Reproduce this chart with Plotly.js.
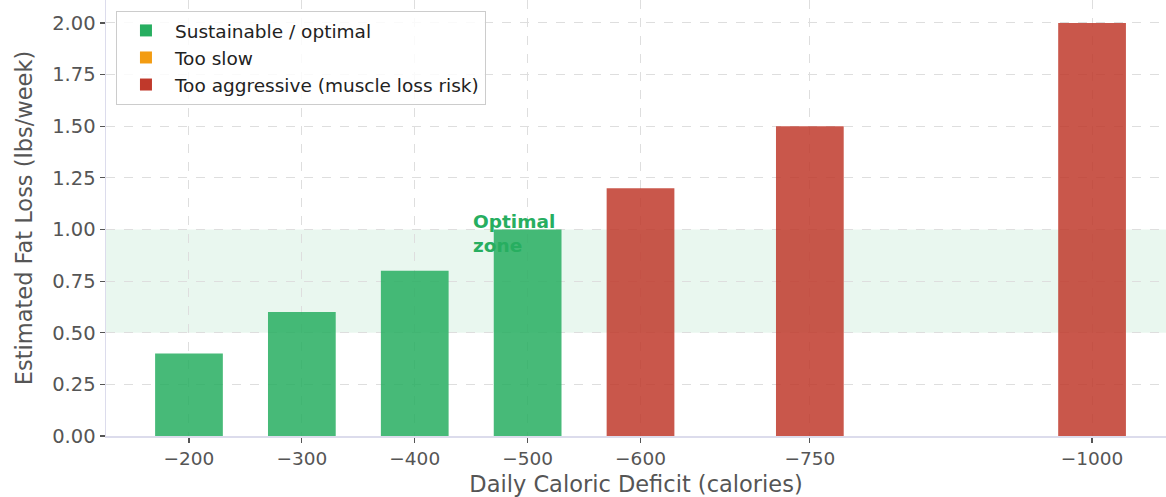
<!DOCTYPE html>
<html>
<head>
<meta charset="utf-8">
<script src="https://cdn.plot.ly/plotly-3.0.1.min.js"></script>
<style>html,body{margin:0;padding:0;background:#fff;}#chart{width:1166px;height:497px;}</style>
</head>
<body>
<div id="chart"></div>
<script>
const deficits = [-200, -300, -400, -500, -600, -750, -1000];
const fatLoss = [0.4, 0.6, 0.8, 1.0, 1.2, 1.5, 2.0];
const categories = ['optimal', 'optimal', 'optimal', 'optimal', 'aggressive', 'aggressive', 'aggressive'];
const tickLabels = ['\u2212200', '\u2212300', '\u2212400', '\u2212500', '\u2212600', '\u2212750', '\u22121000'];
const yTicks = [0, 0.25, 0.5, 0.75, 1.0, 1.25, 1.5, 1.75, 2.0];
const zoneLow = 0.5, zoneHigh = 1.0;

const groups = [
  {key: 'optimal', name: 'Sustainable / optimal', color: '#27ae60'},
  {key: 'slow', name: 'Too slow', color: '#f39c12'},
  {key: 'aggressive', name: 'Too aggressive (muscle loss risk)', color: '#c0392b'}
];

const traces = groups.map(g => {
  const xs = [], ys = [];
  deficits.forEach((d, i) => { if (categories[i] === g.key) { xs.push(d); ys.push(fatLoss[i]); } });
  if (xs.length === 0) { xs.push(-200); ys.push(null); }
  return {
    type: 'bar', x: xs, y: ys, name: g.name, width: 60,
    marker: {color: g.color, opacity: 0.85, line: {width: 0}},
    hoverinfo: 'x+y'
  };
});

const font = 'DejaVu Sans, sans-serif';
const layout = {
  width: 1166, height: 497,
  margin: {l: 106, r: 0, t: 0, b: 61},
  paper_bgcolor: '#fff', plot_bgcolor: '#fff',
  barmode: 'overlay',
  showlegend: true,
  font: {family: font, color: '#555'},
  xaxis: {
    range: [-126.5, -1065.5],
    tickvals: deficits, ticktext: tickLabels,
    ticks: 'outside', ticklen: 5, tickwidth: 1.2, tickcolor: '#555',
    tickfont: {size: 18.5, color: '#555'},
    showgrid: true, gridcolor: '#dedede', griddash: 'dash', gridwidth: 1,
    showline: true, linecolor: '#dcdcec', linewidth: 1.5,
    zeroline: false,
    title: {text: 'Daily Caloric Deficit (calories)', font: {size: 22.5, color: '#555'}, standoff: 9},
    automargin: false
  },
  yaxis: {
    range: [0, 2.111],
    tickvals: yTicks, tickformat: '.2f',
    ticks: 'outside', ticklen: 5, tickwidth: 1.2, tickcolor: '#555',
    tickfont: {size: 19.5, color: '#555'},
    showgrid: true, gridcolor: '#dedede', griddash: 'dash', gridwidth: 1,
    showline: true, linecolor: '#dcdcec', linewidth: 1.5,
    zeroline: false,
    title: {text: 'Estimated Fat Loss (lbs/week)', font: {size: 22.5, color: '#555'}, standoff: 13},
    automargin: false
  },
  shapes: [{
    type: 'rect', xref: 'paper', x0: 0, x1: 1, yref: 'y', y0: zoneLow, y1: zoneHigh,
    fillcolor: 'rgba(39,174,96,0.1)', line: {width: 0}, layer: 'below'
  }],
  annotations: [{
    x: -450, y: 0.98, xref: 'x', yref: 'y', xanchor: 'left', yanchor: 'middle',
    text: '<b>Optimal<br>zone</b>', showarrow: false, align: 'left',
    font: {family: font, size: 18.5, color: '#27ae60'}
  }],
  legend: {
    x: 0.0094, y: 0.975, xanchor: 'left', yanchor: 'top',
    bgcolor: 'rgba(255,255,255,0.85)', bordercolor: '#cccccc', borderwidth: 1,
    font: {size: 18.5, color: '#222'}, traceorder: 'normal', tracegroupgap: 0,
    itemwidth: 48
  }
};

Plotly.newPlot('chart', traces, layout, {displayModeBar: false, staticPlot: true});
</script>
</body>
</html>
